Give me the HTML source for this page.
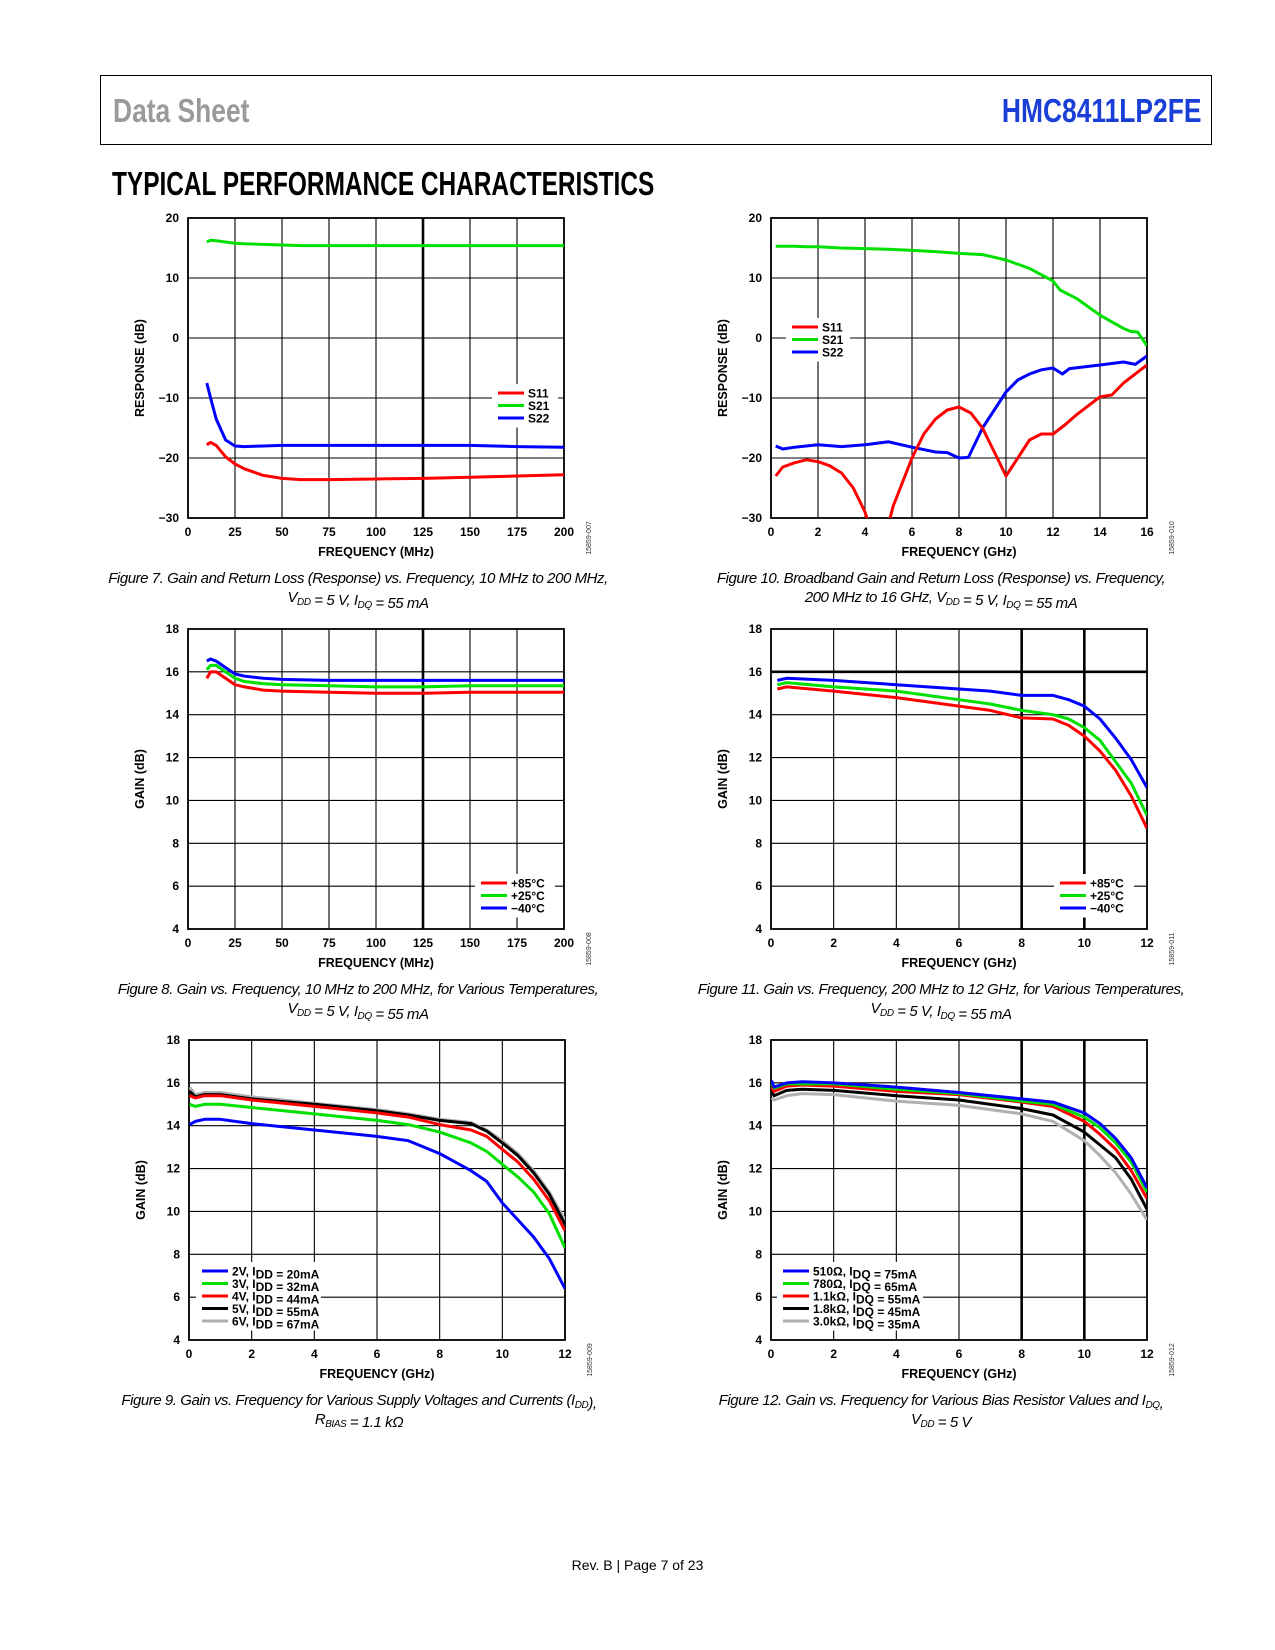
<!DOCTYPE html>
<html><head><meta charset="utf-8">
<style>
html,body{margin:0;padding:0;background:#fff;}
#page{position:relative;width:1275px;height:1650px;overflow:hidden;font-family:"Liberation Sans",sans-serif;}
.hdrbox{position:absolute;left:100px;top:75px;width:1110px;height:68px;border:1.5px solid #000;}
.narrow{font-family:"Liberation Sans Narrow","Liberation Sans",sans-serif;font-weight:bold;white-space:nowrap;}
</style></head>
<body>
<div id="page">
<div class="hdrbox"></div>
<div class="narrow" style="position:absolute;left:113px;top:92px;font-size:33px;color:#9a9a9a;transform:scaleX(0.8);transform-origin:left top;">Data Sheet</div>
<div class="narrow" style="position:absolute;right:74px;top:92px;font-size:33px;color:#1a3fd6;transform:scaleX(0.8);transform-origin:right top;">HMC8411LP2FE</div>
<div class="narrow" style="position:absolute;left:112px;top:165px;font-size:33px;color:#000;transform:scaleX(0.74);transform-origin:left top;">TYPICAL PERFORMANCE CHARACTERISTICS</div>
<svg id="charts" width="1275" height="1650" style="position:absolute;left:0;top:0"></svg>
<div style="position:absolute;left:0;width:1275px;top:1557px;text-align:center;font-size:14px;color:#000;">Rev. B | Page 7 of 23</div>
</div>
<script>
// ---- Figure 7 data (MHz) ----
const f7x = [10,12,15,20,25,30,40,50,60,75,100,125,150,175,200];
const f7s21 = [16.0,16.3,16.2,16.0,15.8,15.7,15.6,15.5,15.4,15.4,15.4,15.4,15.4,15.4,15.4];
const f7s11 = [-17.8,-17.4,-17.9,-19.8,-21.0,-21.8,-22.9,-23.4,-23.6,-23.6,-23.5,-23.4,-23.2,-23.0,-22.8];
const f7s22 = [-7.5,-10,-13.5,-17,-18.0,-18.1,-18.0,-17.9,-17.9,-17.9,-17.9,-17.9,-17.9,-18.1,-18.2];
const f7xt = [0,25,50,75,100,125,150,175,200];
const f7yt = [-30,-20,-10,0,10,20];
// ---- Figure 10 data (GHz) ----
const f10s21x = [0.2,0.5,1,1.5,2,3,4,5,6,7,8,9,10,11,12,12.3,13,14,15,15.3,15.6,16];
const f10s21 = [15.3,15.3,15.3,15.2,15.2,15.0,14.9,14.8,14.6,14.4,14.1,13.9,13.0,11.6,9.5,8.0,6.6,3.8,1.6,1.1,1.0,-1.3];
const f10s11x = [0.2,0.5,1,1.5,2,2.5,3,3.5,4,4.4,4.6,5,5.2,5.5,6,6.5,7,7.5,8,8.5,9,9.5,10,10.5,11,11.5,12,12.5,13,14,14.5,15,16];
const f10s11 = [-23,-21.5,-20.8,-20.3,-20.6,-21.3,-22.5,-25,-29,-34,-34,-31,-28,-25,-20,-16,-13.5,-12,-11.5,-12.5,-15,-19,-23,-20,-17,-16,-16,-14.5,-12.8,-9.8,-9.5,-7.5,-4.5];
const f10s22x = [0.2,0.5,1,2,3,4,5,6,7,7.5,8,8.4,9,10,10.5,11,11.5,12,12.4,12.7,14,15,15.5,16];
const f10s22 = [-18,-18.5,-18.2,-17.8,-18.1,-17.8,-17.3,-18.2,-19,-19.1,-20,-19.9,-15,-9,-7,-6,-5.3,-5,-6,-5.1,-4.5,-4.0,-4.4,-3.0];
const f10xt = [0,2,4,6,8,10,12,14,16];
const f10yt = [-30,-20,-10,0,10,20];
// ---- Figure 8 data (MHz) ----
const f8x = [10,12,15,20,25,30,40,50,75,100,125,150,175,200];
const f8p85 = [15.7,16.0,16.0,15.7,15.4,15.3,15.15,15.1,15.05,15.0,15.0,15.05,15.05,15.05];
const f8p25 = [16.1,16.3,16.3,16.0,15.7,15.55,15.45,15.4,15.35,15.3,15.3,15.35,15.35,15.35];
const f8m40 = [16.5,16.6,16.5,16.2,15.9,15.8,15.7,15.65,15.6,15.6,15.6,15.6,15.6,15.6];
const f8xt = [0,25,50,75,100,125,150,175,200];
const gainYt = [4,6,8,10,12,14,16,18];
// ---- Figure 11 data (GHz) ----
const f11x = [0.2,0.5,2,4,6,7,8,9,9.5,10,10.5,11,11.5,12];
const f11p85 = [15.2,15.3,15.1,14.8,14.4,14.2,13.85,13.8,13.5,13.0,12.3,11.4,10.2,8.7];
const f11p25 = [15.4,15.5,15.3,15.1,14.7,14.5,14.2,14.0,13.8,13.4,12.8,11.8,10.8,9.3];
const f11m40 = [15.6,15.7,15.6,15.4,15.2,15.1,14.9,14.9,14.7,14.4,13.8,12.9,11.9,10.6];
const ghz12xt = [0,2,4,6,8,10,12];
// ---- Figure 9 data (GHz) ----
const f9x = [0.02,0.2,0.5,1,2,4,6,7,8,9,9.5,10,10.5,11,11.5,12];
const f9v2 = [14.05,14.2,14.3,14.3,14.1,13.8,13.5,13.3,12.7,11.9,11.4,10.4,9.6,8.8,7.8,6.4];
const f9v3 = [15.0,14.9,15.0,15.0,14.85,14.55,14.25,14.05,13.7,13.2,12.8,12.2,11.6,10.9,9.9,8.3];
const f9v4 = [15.4,15.3,15.4,15.4,15.2,14.9,14.6,14.4,14.05,13.8,13.5,12.9,12.3,11.5,10.5,9.1];
const f9v5 = [15.6,15.35,15.45,15.45,15.25,15.0,14.7,14.5,14.25,14.1,13.75,13.2,12.6,11.8,10.8,9.4];
const f9v6 = [15.8,15.45,15.55,15.55,15.35,15.05,14.75,14.55,14.3,14.15,13.8,13.3,12.7,11.9,10.9,9.6];
// ---- Figure 12 data (GHz) ----
const f12x = [0.02,0.1,0.5,1,2,4,6,8,9,10,10.5,11,11.5,12];
const f12r510 = [16.1,15.8,16.0,16.05,16.0,15.8,15.55,15.25,15.1,14.6,14.1,13.4,12.5,11.1];
const f12r780 = [16.0,15.75,15.95,15.95,15.95,15.7,15.5,15.15,15.0,14.4,13.9,13.2,12.3,10.9];
const f12r1k1 = [15.8,15.6,15.85,15.9,15.85,15.6,15.45,15.1,14.9,14.2,13.6,12.9,11.9,10.6];
const f12r1k8 = [15.6,15.4,15.65,15.7,15.65,15.4,15.2,14.8,14.5,13.7,13.1,12.5,11.5,10.1];
const f12r3k0 = [15.3,15.2,15.4,15.5,15.45,15.15,14.95,14.55,14.2,13.3,12.6,11.8,10.8,9.6];

const NS = 'http://www.w3.org/2000/svg';
const svg = document.getElementById('charts');
function mk(tag, attrs, parent){ const e=document.createElementNS(NS,tag); for(const k in attrs) e.setAttribute(k,attrs[k]); (parent||svg).appendChild(e); return e; }
const RED='#ff0000', GRN='#00e000', BLU='#0000ff', BLK='#000000', GRY='#b0b0b0';
let clipId=0;

function chart(c){
  const g = mk('g',{});
  
  
  const L=c.x0, T=c.y0, W=376, H=300;
  const sx = v => L + (v - c.xmin)/(c.xmax - c.xmin)*W;
  const sy = v => T + H - (v - c.ymin)/(c.ymax - c.ymin)*H;
  c.xt.forEach(v=>{
    const thick = (c.thickX||[]).includes(v);
    const ln = mk('line',{x1:sx(v),x2:sx(v),y1:T,y2:T+H,stroke:'#000','stroke-width':thick?2.6:1.1},g);
    
    
    const t = mk('text',{x:sx(v),y:T+H+18,'text-anchor':'middle','font-size':12,'font-weight':'bold','font-family':'Liberation Sans, sans-serif'},g);
    t.textContent = v;
    
    
  });
  c.yt.forEach(v=>{
    const thick = (c.thickY||[]).includes(v);
    const ln = mk('line',{x1:L,x2:L+W,y1:sy(v),y2:sy(v),stroke:'#000','stroke-width':thick?2.6:1.1},g);
    
    
    const t = mk('text',{x:L-9,y:sy(v)+4,'text-anchor':'end','font-size':12,'font-weight':'bold','font-family':'Liberation Sans, sans-serif'},g);
    t.textContent = (v<0?'\u2212'+(-v):v);
    
    
  });
  const fr = mk('rect',{x:L,y:T,width:W,height:H,fill:'none',stroke:'#000','stroke-width':1.8},g);
  
  
  clipId++;
  const cp = mk('clipPath',{id:'cp'+clipId},g);
  mk('rect',{x:L,y:T,width:W,height:H},cp);
  c.series.forEach(s=>{
    const d = s.x.map((xv,i)=>(i?'L':'M')+sx(xv).toFixed(1)+' '+sy(s.y[i]).toFixed(1)).join(' ');
    const p = mk('path',{d:d,fill:'none',stroke:s.color,'stroke-width':s.w||3,'stroke-linejoin':'round','clip-path':'url(#cp'+clipId+')'},g);
    
    
  });
  const lg = c.legend;
  const bg = mk('rect',{x:lg.x-6,y:lg.y-9,width:lg.w,height:lg.items.length*12.5+6,fill:'#fff'},g);
  
  
  lg.items.forEach((it,i)=>{
    const yy = lg.y + i*12.5;
    const ln = mk('line',{x1:lg.x,x2:lg.x+26,y1:yy,y2:yy,stroke:it.color,'stroke-width':lg.lw||3},g);
    
    
    const t = mk('text',{x:lg.x+30,y:yy+4.5,'font-size':12,'font-weight':'bold','font-family':'Liberation Sans, sans-serif'},g);
    t.innerHTML = it.label;
    
    
  });
  const xt = mk('text',{x:L+W/2,y:T+H+38,'text-anchor':'middle','font-size':12.5,'font-weight':'bold','font-family':'Liberation Sans, sans-serif'},g);
  xt.textContent = c.xtitle;
  
  
  const yx = L-44, yc = T+H/2;
  const yt = mk('text',{x:yx,y:yc,'text-anchor':'middle','font-size':12.5,'font-weight':'bold','font-family':'Liberation Sans, sans-serif',transform:'rotate(-90 '+yx+' '+yc+')'},g);
  yt.textContent = c.ytitle;
  
  
  const cx = L+W+27, cy = T+H+20;
  const code = mk('text',{x:cx,y:cy,'text-anchor':'middle','font-size':7,'font-family':'Liberation Sans, sans-serif',fill:'#333',transform:'rotate(-90 '+cx+' '+cy+')'},g);
  code.textContent = c.code;
  
  
  c.caption.forEach((ln,i)=>{
    const t = mk('text',{x:L+W/2-18,y:T+H+65+i*19,'text-anchor':'middle','font-size':15,'letter-spacing':'-0.45','font-style':'italic','font-family':'Liberation Sans, sans-serif'},g);
    t.innerHTML = ln;
    
    
  });
}
const sub = s => '<tspan dy="3" font-size="10">'+s+'</tspan><tspan dy="-3"></tspan>';
const sub2 = s => '<tspan dy="3">'+s+'</tspan><tspan dy="-3"></tspan>';

chart({name:'figure-7-chart',x0:188,y0:218,xmin:0,xmax:200,ymin:-30,ymax:20,xt:f7xt,yt:f7yt,thickX:[125],
  series:[{name:'s21-line',x:f7x,y:f7s21,color:GRN},{name:'s22-line',x:f7x,y:f7s22,color:BLU},{name:'s11-line',x:f7x,y:f7s11,color:RED}],
  legend:{x:498,y:393,w:66,items:[{color:RED,label:'S11'},{color:GRN,label:'S21'},{color:BLU,label:'S22'}]},
  xtitle:'FREQUENCY (MHz)',ytitle:'RESPONSE (dB)',code:'15859-007',
  caption:['Figure 7. Gain and Return Loss (Response) vs. Frequency, 10 MHz to 200 MHz,','V'+sub('DD')+' = 5 V, I'+sub('DQ')+' = 55 mA']});

chart({name:'figure-10-chart',x0:771,y0:218,xmin:0,xmax:16,ymin:-30,ymax:20,xt:f10xt,yt:f10yt,
  series:[{name:'s21-line',x:f10s21x,y:f10s21,color:GRN},{name:'s22-line',x:f10s22x,y:f10s22,color:BLU},{name:'s11-line',x:f10s11x,y:f10s11,color:RED}],
  legend:{x:792,y:327,w:64,items:[{color:RED,label:'S11'},{color:GRN,label:'S21'},{color:BLU,label:'S22'}]},
  xtitle:'FREQUENCY (GHz)',ytitle:'RESPONSE (dB)',code:'15859-010',
  caption:['Figure 10. Broadband Gain and Return Loss (Response) vs. Frequency,','200 MHz to 16 GHz, V'+sub('DD')+' = 5 V, I'+sub('DQ')+' = 55 mA']});

chart({name:'figure-8-chart',x0:188,y0:629,xmin:0,xmax:200,ymin:4,ymax:18,xt:f8xt,yt:gainYt,thickX:[125],
  series:[{name:'minus40c-line',x:f8x,y:f8m40,color:BLU},{name:'plus25c-line',x:f8x,y:f8p25,color:GRN},{name:'plus85c-line',x:f8x,y:f8p85,color:RED}],
  legend:{x:481,y:883,w:80,lw:3,items:[{color:RED,label:'+85°C'},{color:GRN,label:'+25°C'},{color:BLU,label:'−40°C'}]},
  xtitle:'FREQUENCY (MHz)',ytitle:'GAIN (dB)',code:'15859-008',
  caption:['Figure 8. Gain vs. Frequency, 10 MHz to 200 MHz, for Various Temperatures,','V'+sub('DD')+' = 5 V, I'+sub('DQ')+' = 55 mA']});

chart({name:'figure-11-chart',x0:771,y0:629,xmin:0,xmax:12,ymin:4,ymax:18,xt:ghz12xt,yt:gainYt,thickX:[8,10],thickY:[16],
  series:[{name:'minus40c-line',x:f11x,y:f11m40,color:BLU},{name:'plus25c-line',x:f11x,y:f11p25,color:GRN},{name:'plus85c-line',x:f11x,y:f11p85,color:RED}],
  legend:{x:1060,y:883,w:80,lw:3,items:[{color:RED,label:'+85°C'},{color:GRN,label:'+25°C'},{color:BLU,label:'−40°C'}]},
  xtitle:'FREQUENCY (GHz)',ytitle:'GAIN (dB)',code:'15859-011',
  caption:['Figure 11. Gain vs. Frequency, 200 MHz to 12 GHz, for Various Temperatures,','V'+sub('DD')+' = 5 V, I'+sub('DQ')+' = 55 mA']});

chart({name:'figure-9-chart',x0:189,y0:1040,xmin:0,xmax:12,ymin:4,ymax:18,xt:ghz12xt,yt:gainYt,
  series:[{name:'vdd-6v-line',x:f9x,y:f9v6,color:GRY},{name:'vdd-5v-line',x:f9x,y:f9v5,color:BLK},{name:'vdd-4v-line',x:f9x,y:f9v4,color:RED},{name:'vdd-3v-line',x:f9x,y:f9v3,color:GRN},{name:'vdd-2v-line',x:f9x,y:f9v2,color:BLU}],
  legend:{x:202,y:1271,w:125,items:[{color:BLU,label:'2V, I'+sub2('DD')+' = 20mA'},{color:GRN,label:'3V, I'+sub2('DD')+' = 32mA'},{color:RED,label:'4V, I'+sub2('DD')+' = 44mA'},{color:BLK,label:'5V, I'+sub2('DD')+' = 55mA'},{color:GRY,label:'6V, I'+sub2('DD')+' = 67mA'}]},
  xtitle:'FREQUENCY (GHz)',ytitle:'GAIN (dB)',code:'15859-009',
  caption:['Figure 9. Gain vs. Frequency for Various Supply Voltages and Currents (I'+sub('DD')+'),','R'+sub('BIAS')+' = 1.1 kΩ']});

chart({name:'figure-12-chart',x0:771,y0:1040,xmin:0,xmax:12,ymin:4,ymax:18,xt:ghz12xt,yt:gainYt,thickX:[8,10],
  series:[{name:'r3k0-line',x:f12x,y:f12r3k0,color:GRY},{name:'r1k8-line',x:f12x,y:f12r1k8,color:BLK},{name:'r1k1-line',x:f12x,y:f12r1k1,color:RED},{name:'r780-line',x:f12x,y:f12r780,color:GRN},{name:'r510-line',x:f12x,y:f12r510,color:BLU}],
  legend:{x:783,y:1271,w:146,items:[{color:BLU,label:'510Ω, I'+sub2('DQ')+' = 75mA'},{color:GRN,label:'780Ω, I'+sub2('DQ')+' = 65mA'},{color:RED,label:'1.1kΩ, I'+sub2('DQ')+' = 55mA'},{color:BLK,label:'1.8kΩ, I'+sub2('DQ')+' = 45mA'},{color:GRY,label:'3.0kΩ, I'+sub2('DQ')+' = 35mA'}]},
  xtitle:'FREQUENCY (GHz)',ytitle:'GAIN (dB)',code:'15859-012',
  caption:['Figure 12. Gain vs. Frequency for Various Bias Resistor Values and I'+sub('DQ')+',','V'+sub('DD')+' = 5 V']});
</script>
</body></html>
